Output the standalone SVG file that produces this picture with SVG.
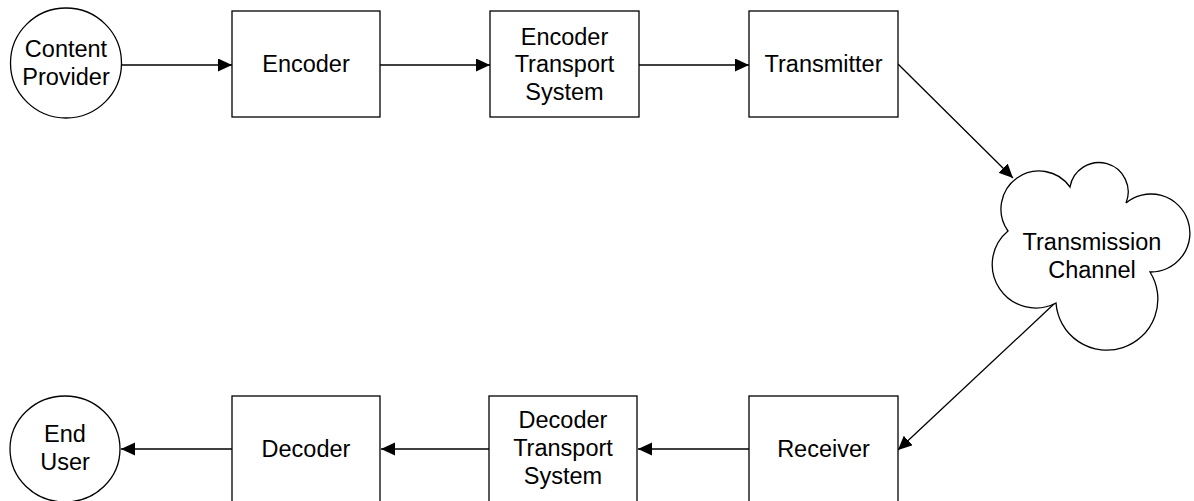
<svg xmlns="http://www.w3.org/2000/svg" width="1194" height="501" viewBox="0 0 1194 501">
  <style>
    .shape { fill: #ffffff; stroke: #000000; stroke-width: 1.3; }
    .link { fill: none; stroke: #000000; stroke-width: 1.3; }
    text { font-family: "Liberation Sans", Arial, sans-serif; font-size: 23.5px; fill: #000000; text-anchor: middle; }
  </style>
  <defs>
    <marker id="arrow" markerUnits="userSpaceOnUse" markerWidth="16" markerHeight="14" refX="14" refY="6.5" orient="auto">
      <path d="M0,0 L14,6.5 L0,13 Z" fill="#000000"/>
    </marker>
  </defs>
  <rect width="1194" height="501" fill="#ffffff"/>

  <!-- connectors -->
  <g id="connectors">
    <line class="link" x1="122" y1="65" x2="232" y2="65" marker-end="url(#arrow)"/>
    <line class="link" x1="380" y1="65" x2="490" y2="65" marker-end="url(#arrow)"/>
    <line class="link" x1="639" y1="65" x2="749" y2="65" marker-end="url(#arrow)"/>
    <line class="link" x1="898" y1="64" x2="1013" y2="178" marker-end="url(#arrow)"/>
    <line class="link" x1="1055" y1="303" x2="898" y2="450" marker-end="url(#arrow)"/>
    <line class="link" x1="749" y1="449" x2="638" y2="449" marker-end="url(#arrow)"/>
    <line class="link" x1="489" y1="449" x2="381" y2="449" marker-end="url(#arrow)"/>
    <line class="link" x1="232" y1="449" x2="121" y2="449" marker-end="url(#arrow)"/>
  </g>

  <!-- top row -->
  <g id="content-provider">
    <ellipse class="shape" cx="66" cy="63" rx="55.5" ry="55"/>
    <text x="66" y="57">Content</text>
    <text x="66" y="85">Provider</text>
  </g>
  <g id="encoder">
    <rect class="shape" x="232" y="11" width="148" height="106"/>
    <text x="306" y="72">Encoder</text>
  </g>
  <g id="encoder-transport">
    <rect class="shape" x="490" y="11" width="149" height="106"/>
    <text x="564.5" y="44.5">Encoder</text>
    <text x="564.5" y="72">Transport</text>
    <text x="564.5" y="99.5">System</text>
  </g>
  <g id="transmitter">
    <rect class="shape" x="749" y="11" width="149" height="106"/>
    <text x="823.5" y="72">Transmitter</text>
  </g>

  <!-- channel cloud -->
  <g id="transmission-channel">
    <path class="shape" d="M1008,231 A38,38 0 1 1 1070,187 A29.3,29.3 0 1 1 1126,203 A39,39 0 1 1 1150,272 A51,51 0 1 1 1056,303 A43.5,43.5 0 0 1 1008,231 Z"/>
    <text x="1092" y="250">Transmission</text>
    <text x="1092" y="278">Channel</text>
  </g>

  <!-- bottom row -->
  <g id="receiver">
    <rect class="shape" x="749" y="396" width="149" height="106"/>
    <text x="823.5" y="457">Receiver</text>
  </g>
  <g id="decoder-transport">
    <rect class="shape" x="489" y="396" width="148" height="106"/>
    <text x="563" y="428">Decoder</text>
    <text x="563" y="456">Transport</text>
    <text x="563" y="484">System</text>
  </g>
  <g id="decoder">
    <rect class="shape" x="232" y="396" width="148" height="106"/>
    <text x="306" y="457">Decoder</text>
  </g>
  <g id="end-user">
    <ellipse class="shape" cx="65" cy="449" rx="55" ry="53"/>
    <text x="65" y="442">End</text>
    <text x="65" y="470">User</text>
  </g>
</svg>
